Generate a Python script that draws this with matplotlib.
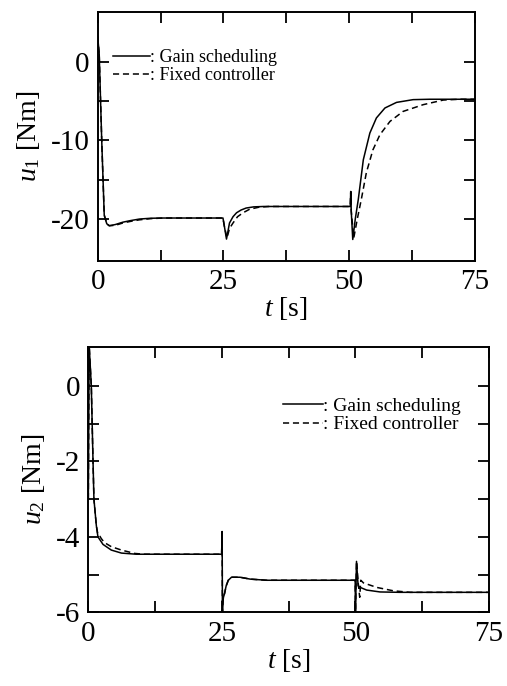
"""Control input u1, u2 over time: gain scheduling vs fixed controller."""

import matplotlib
matplotlib.use("Agg")
import matplotlib.pyplot as plt
from matplotlib.ticker import FixedLocator

plt.rcParams["font.family"] = ["Liberation Serif", "DejaVu Serif"]
plt.rcParams["mathtext.fontset"] = "custom"
plt.rcParams["mathtext.rm"] = "Liberation Serif"
plt.rcParams["mathtext.it"] = "Liberation Serif:italic"
plt.rcParams["axes.unicode_minus"] = False

# ── data ────────────────────────────────────────────────────────────────────
# u1, gain scheduling (solid)
t1_gs = [0, 0.3, 0.8, 1.3, 1.8, 2.3, 3.5, 5.0, 6.5, 8.3, 10.5, 13, 24.9,
         25.2, 25.6, 26.2, 26.9, 27.6, 28.5, 29.5, 31, 33, 50.2, 50.3, 50.4,
         50.7, 51.2, 51.8, 52.8, 54.1, 55.4, 57.1, 59.4, 62.7, 66, 75]
u1_gs = [3.2, 1.0, -10, -19.5, -20.6, -20.85, -20.7, -20.4, -20.2, -20.0,
         -19.9, -19.87, -19.87, -21.0, -22.55, -20.5, -19.7, -19.2, -18.85,
         -18.6, -18.45, -18.4, -18.4, -16.5, -19.0, -22.6, -20.0, -17.5,
         -12.45, -9.05, -7.13, -5.86, -5.15, -4.8, -4.75, -4.75]

# u1, fixed controller (dashed)
t1_fx = [0, 0.3, 0.8, 1.3, 1.8, 2.3, 3.5, 5.0, 6.5, 8.3, 10.5, 13, 24.9,
         25.2, 25.7, 26.2, 26.9, 27.8, 28.9, 30.2, 32, 34, 50.2, 50.3, 50.4,
         50.9, 51.6, 52.4, 53.4, 54.7, 56.1, 58.1, 60.7, 64.7, 68.7, 72, 75]
u1_fx = [3.2, 1.0, -10, -19.5, -20.6, -20.85, -20.8, -20.5, -20.3, -20.1,
         -19.95, -19.87, -19.87, -21.0, -22.4, -21.2, -20.5, -19.7, -19.2,
         -18.75, -18.5, -18.4, -18.4, -16.5, -19.0, -22.4, -20.0, -17.5,
         -14.1, -11.2, -9.26, -7.57, -6.3, -5.44, -4.85, -4.75, -4.75]

# u2, gain scheduling (solid)
t2_gs = [0, 0.15, 0.56, 0.88, 1.05, 1.5, 1.8, 2.75, 4.3, 6.2, 9, 24.95,
         25.05, 25.1, 25.2, 25.3, 25.5, 25.8, 26.2, 26.8, 28.4, 30.3, 33.4,
         49.95, 50.0, 50.2, 50.5, 50.9, 52.1, 54.6, 58.3, 75]
u2_gs = [-3.0, 1.1, 0, -2.0, -3.0, -3.7, -4.0, -4.2, -4.35, -4.43, -4.46,
         -4.46, -3.86, -6.0, -5.7, -5.6, -5.5, -5.3, -5.15, -5.07, -5.07,
         -5.12, -5.15, -5.15, -6.0, -4.65, -5.3, -5.34, -5.41, -5.46, -5.47,
         -5.47]

# u2, fixed controller (dashed)
t2_fx = [0, 0.15, 0.56, 0.88, 1.05, 1.5, 1.8, 2.2, 2.4, 3.0, 4.3, 6.2, 8.7,
         10.5, 24.95, 25.05, 25.1, 25.2, 25.3, 25.5, 25.8, 26.2, 26.8, 28.4,
         30.3, 33.4, 49.95, 50.0, 50.2, 50.5, 50.8, 51.0, 51.5, 54.0, 57.1,
         60.2, 75]
u2_fx = [-3.0, 1.1, 0, -2.0, -3.0, -3.7, -3.95, -3.99, -4.04, -4.15, -4.26,
         -4.35, -4.44, -4.46, -4.46, -3.86, -6.0, -5.7, -5.6, -5.5, -5.3,
         -5.15, -5.07, -5.07, -5.12, -5.15, -5.15, -6.0, -4.65, -5.2, -5.6,
         -5.15, -5.22, -5.34, -5.43, -5.47, -5.47]

LABELS = [": Gain scheduling", ": Fixed controller"]

DASH = (0, (4, 2.5))
TICK_FS = 21
LABEL_FS = 20


def _style(ax, yticks, yminor):
    ax.set_xlim(0, 75)
    ax.xaxis.set_major_locator(FixedLocator([0, 25, 50, 75]))
    ax.xaxis.set_minor_locator(FixedLocator([12.5, 37.5, 62.5]))
    ax.yaxis.set_major_locator(FixedLocator(yticks))
    ax.yaxis.set_minor_locator(FixedLocator(yminor))
    ax.tick_params(which="both", direction="in", top=True, right=True,
                   length=8, width=1.3)
    ax.tick_params(which="major", labelsize=TICK_FS, pad=6)
    for spine in ax.spines.values():
        spine.set_linewidth(1.4)
    ax.set_xlabel(r"$t$ [s]", fontsize=LABEL_FS, labelpad=0)


fig = plt.figure(figsize=(5.07, 6.86), dpi=100)

# ── top panel: u1 ───────────────────────────────────────────────────────────
ax1 = fig.add_axes([0.1927, 0.6200, 0.7442, 0.3630])
h1, = ax1.plot(t1_gs, u1_gs, color="black", linewidth=1.1)
h2, = ax1.plot(t1_fx, u1_fx, color="black", linewidth=1.1, linestyle=DASH)
ax1.set_ylim(-25.3, 6.4)
_style(ax1, [0, -10, -20], [-5, -15])
ax1.set_ylabel(r"$u_1$ [Nm]", fontsize=LABEL_FS, labelpad=6)
ax1.legend([h1, h2], LABELS, loc="upper left", bbox_to_anchor=(0.04, 0.85),
           frameon=False, fontsize=13, handlelength=2.05, handletextpad=0,
           borderpad=0, borderaxespad=0, labelspacing=0.05)

# ── bottom panel: u2 ────────────────────────────────────────────────────────
ax2 = fig.add_axes([0.1742, 0.1074, 0.7903, 0.3872])
h1, = ax2.plot(t2_gs, u2_gs, color="black", linewidth=1.1)
h2, = ax2.plot(t2_fx, u2_fx, color="black", linewidth=1.1, linestyle=DASH)
ax2.set_ylim(-6, 1.04)
_style(ax2, [0, -2, -4, -6], [-1, -3, -5])
ax2.set_ylabel(r"$u_2$ [Nm]", fontsize=LABEL_FS, labelpad=6)
ax2.legend([h1, h2], LABELS, loc="upper left", bbox_to_anchor=(0.486, 0.81),
           frameon=False, fontsize=14, handlelength=2.05, handletextpad=0,
           borderpad=0, borderaxespad=0, labelspacing=0.05)

fig.savefig("out.png", dpi=100)
plt.close(fig)
